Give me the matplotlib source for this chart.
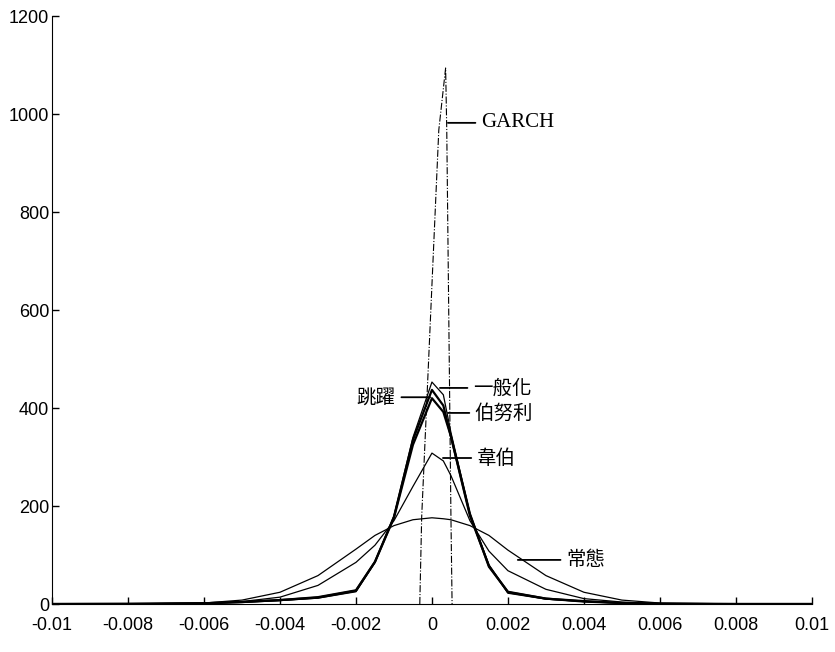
import numpy as np
import matplotlib.pyplot as plt

plt.rcParams['font.family'] = ['Liberation Sans', 'Noto Sans CJK TC']

# Data
x = [-0.01, -0.008, -0.006, -0.005, -0.004, -0.003, -0.002, -0.0015, -0.001, -0.0005,
     0.0, 0.0003, 0.0005, 0.001, 0.0015, 0.002, 0.003, 0.004, 0.005, 0.006, 0.008, 0.01]
normal = [0, 0.3, 2, 8, 24, 58, 112, 140, 160, 172, 176, 174, 172, 160, 140, 110, 58, 24, 8, 2, 0.3, 0]
weibull = [0, 0, 1, 5, 14, 38, 85, 120, 170, 240, 308, 292, 262, 170, 108, 68, 30, 11, 4, 1, 0, 0]
general = [0, 0.3, 1.5, 4, 7, 12, 25, 85, 180, 340, 453, 427, 350, 185, 80, 22, 10, 5, 2, 0.5, 0, 0]
jump = [0, 0.3, 1.5, 4, 8, 13, 27, 86, 178, 335, 437, 405, 342, 180, 78, 24, 11, 5, 2, 0.5, 0, 0]
bernoulli = [0, 0.3, 1.5, 4, 8, 14, 28, 86, 176, 325, 420, 392, 342, 184, 76, 25, 11, 6, 2, 0.5, 0, 0]

garch_x = [-0.00032, -0.00027, 0.00018, 0.00036, 0.00039, 0.0005, 0.00053]
garch_y = [0, 178, 967, 1094, 967, 178, 0]

xticks = [-0.01, -0.008, -0.006, -0.004, -0.002, 0, 0.002, 0.004, 0.006, 0.008, 0.01]
xtick_labels = ['-0.01', '-0.008', '-0.006', '-0.004', '-0.002', '0',
                '0.002', '0.004', '0.006', '0.008', '0.01']
yticks = [0, 200, 400, 600, 800, 1000, 1200]

fig = plt.figure(figsize=(8.35, 6.52), dpi=100)
ax = fig.add_axes([0.0623, 0.0736, 0.910, 0.9018])

ax.plot(x, normal, color='black', lw=0.9)
ax.plot(x, weibull, color='black', lw=0.9)
ax.plot(x, general, color='black', lw=0.9)
ax.plot(x, jump, color='black', lw=1.6)
ax.plot(x, bernoulli, color='black', lw=1.6)
ax.plot(garch_x, garch_y, color='black', lw=0.8, linestyle='-.')

ax.set_xlim(-0.01, 0.01)
ax.set_ylim(0, 1200)
ax.set_xticks(xticks)
ax.set_xticklabels(xtick_labels)
ax.set_yticks(yticks)
ax.spines['top'].set_visible(False)
ax.spines['right'].set_visible(False)
ax.tick_params(axis='both', direction='in', length=5, width=1, colors='black')
ax.tick_params(axis='y', pad=2, labelsize=13)
ax.tick_params(axis='x', pad=9, labelsize=13)

# Curve labels with leader lines
line = dict(arrowstyle='-', color='black', lw=1.3, shrinkA=2, shrinkB=0)
cjk = ['Noto Sans CJK TC']
ax.annotate('GARCH', xy=(0.00042, 982), xytext=(0.00129, 982), va='center', ha='left',
            fontsize=15, family='Liberation Serif', arrowprops=dict(line, relpos=(0, 0.5)))
ax.annotate('一般化', xy=(0.00021, 441), xytext=(0.00108, 441), va='center', ha='left',
            fontsize=14, family=cjk, arrowprops=dict(line, relpos=(0, 0.5)))
ax.annotate('跳躍', xy=(-0.00005, 422), xytext=(-0.00095, 422), va='center', ha='right',
            fontsize=14, family=cjk, arrowprops=dict(line, relpos=(1, 0.5)))
ax.annotate('伯努利', xy=(0.00042, 390), xytext=(0.00113, 390), va='center', ha='left',
            fontsize=14, family=cjk, arrowprops=dict(line, relpos=(0, 0.5)))
ax.annotate('韋伯', xy=(0.00029, 298), xytext=(0.00118, 298), va='center', ha='left',
            fontsize=14, family=cjk, arrowprops=dict(line, relpos=(0, 0.5)))
ax.annotate('常態', xy=(0.00226, 90), xytext=(0.00353, 90), va='center', ha='left',
            fontsize=14, family=cjk, arrowprops=dict(line, relpos=(0, 0.5)))

fig.savefig('out.png', dpi=100)
